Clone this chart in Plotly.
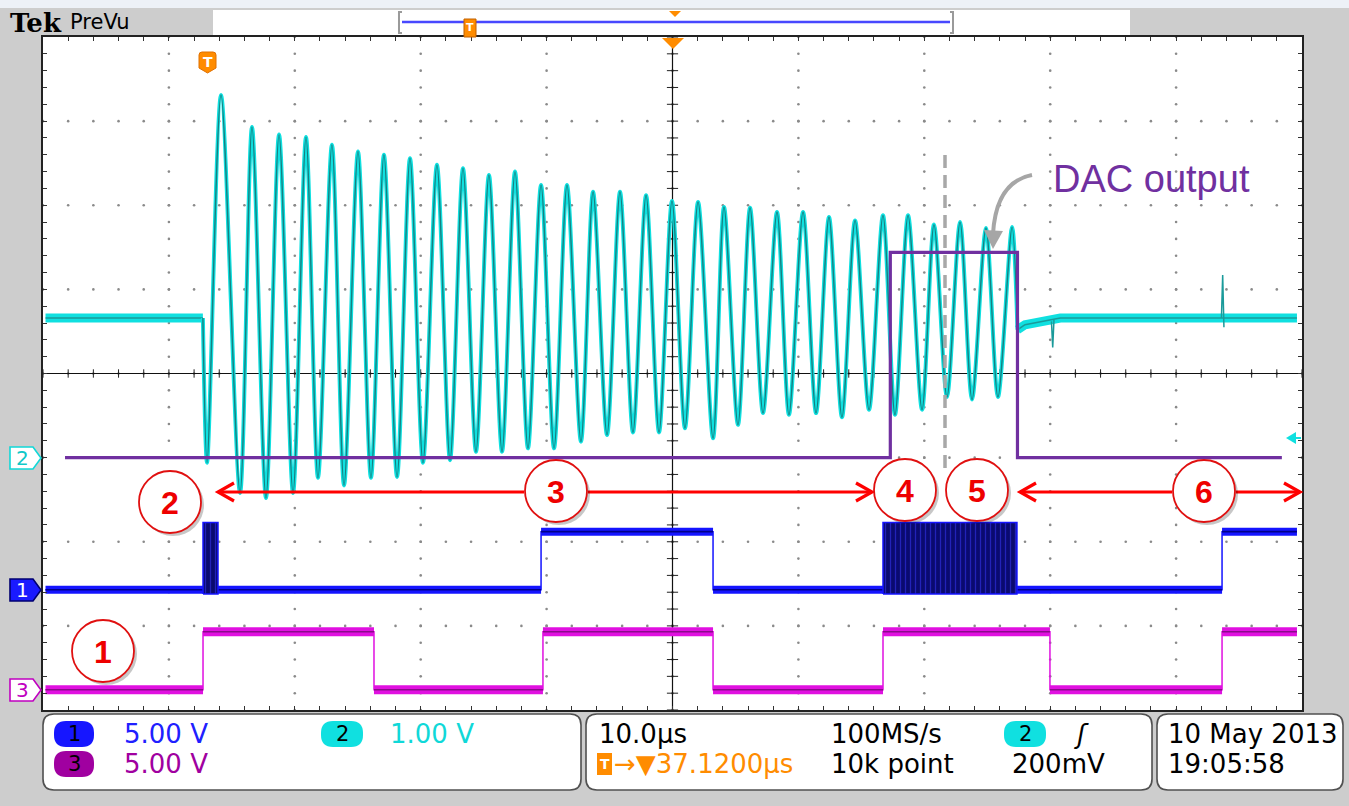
import plotly.graph_objects as go

W, H = 1349, 806
GL, GR, GT, GB = 43, 1302, 37, 710

# ---------------- data (time in µs from left edge, amplitude in divisions) -------------
cyan_pre_t = [0.2, 12.7]
cyan_pre_v = [4.66, 4.66]
trough_t = [13.03, 15.65, 17.71, 19.86, 21.84, 23.91, 26.05, 28.12, 30.18, 32.33, 34.39,
            36.46, 38.52, 40.59, 42.73, 44.80, 46.86, 48.93, 50.99, 53.22, 55.20, 57.19,
            59.25, 61.40, 63.46, 65.61, 67.67, 69.82, 71.80, 73.79, 75.85]
trough_v = [2.94, 2.58, 2.52, 2.58, 2.76, 2.67, 2.76, 2.77, 2.94, 2.97, 3.07,
            3.07, 3.11, 3.11, 3.19, 3.27, 3.30, 3.30, 3.35, 3.23, 3.39, 3.53,
            3.51, 3.53, 3.48, 3.57, 3.51, 3.57, 3.72, 3.69, 3.72]
peak_t = [14.14, 16.60, 18.75, 20.89, 22.95, 25.02, 27.08, 29.15, 31.29, 33.36, 35.42,
          37.49, 39.56, 41.62, 43.69, 45.83, 47.90, 49.96, 52.03, 54.09, 56.16, 58.30,
          60.37, 62.43, 64.50, 66.72, 68.71, 70.77, 72.84, 74.90, 76.97]
peak_v = [7.31, 6.93, 6.84, 6.81, 6.72, 6.64, 6.60, 6.56, 6.48, 6.44, 6.36,
          6.40, 6.24, 6.24, 6.16, 6.16, 6.12, 6.05, 6.04, 5.98, 5.97, 5.92,
          5.92, 5.86, 5.82, 5.88, 5.88, 5.77, 5.80, 5.73, 5.74]
cyan_post_t = [77.4, 78.0, 80.8, 99.6]
cyan_post_v = [4.52, 4.58, 4.66, 4.66]
cyan_spike_t = [80.1, 80.2, 80.3, 93.6, 93.7, 93.8]
cyan_spike_v = [4.62, 4.31, 4.64, 4.66, 5.17, 4.55]

blue_edges = [0.2, 12.71, 13.90, 39.56, 53.22, 66.72, 77.36, 93.65, 99.6]
blue_levels = [1.43, 1.43, 1.43, 2.12, 1.43, 1.43, 1.43, 2.12]
blue_burst = [0, 1, 0, 0, 0, 1, 0, 0]
blue_burst_top = 2.23
blue_burst_bottom = 1.38

mag_edges = [0.2, 12.71, 26.29, 39.71, 53.22, 66.72, 79.98, 93.65, 99.6]
mag_levels = [0.24, 0.93, 0.24, 0.93, 0.24, 0.93, 0.24, 0.93]

dac_edges = [1.75, 67.3, 77.4, 98.4]
dac_levels = [3.0, 5.44, 3.0]

# ---------------- helpers --------------------------------------------------------------
def X(px):
    return px / W

def Y(py):
    return 1 - py / H

def P(px, py):
    return f"{X(px):.5f},{Y(py):.5f}"

def rrect(x0, y0, x1, y1, r):
    return (f"M {P(x0 + r, y0)} L {P(x1 - r, y0)} Q {P(x1, y0)} {P(x1, y0 + r)} "
            f"L {P(x1, y1 - r)} Q {P(x1, y1)} {P(x1 - r, y1)} L {P(x0 + r, y1)} "
            f"Q {P(x0, y1)} {P(x0, y1 - r)} L {P(x0, y0 + r)} Q {P(x0, y0)} {P(x0 + r, y0)} Z")

def poly(pts):
    return "M " + " L ".join(P(a, b) for a, b in pts) + " Z"

fig = go.Figure()

def line_tr(x, y, col, w, **kw):
    fig.add_trace(go.Scatter(x=x, y=y, mode="lines", line=dict(color=col, width=w, **kw),
                             hoverinfo="skip", showlegend=False))

# grid dots
gx, gy = [], []
for mx in range(10, 100, 10):
    for k in range(0, 41):
        gx.append(mx); gy.append(k * 0.2)
for my in range(1, 8):
    for k in range(0, 51):
        gx.append(k * 2); gy.append(my)
fig.add_trace(go.Scatter(x=gx, y=gy, mode="markers", hoverinfo="skip",
                         marker=dict(size=2.6, color="#8a8a8a"), showlegend=False))
# centre-line ticks
fig.add_trace(go.Scatter(x=[k * 2 for k in range(51)], y=[4] * 51, mode="markers", hoverinfo="skip",
                         marker=dict(symbol="line-ns", size=6, line=dict(width=1, color="#222")),
                         showlegend=False))
fig.add_trace(go.Scatter(x=[50] * 41, y=[k * 0.2 for k in range(41)], mode="markers", hoverinfo="skip",
                         marker=dict(symbol="line-ew", size=8, line=dict(width=1, color="#222")),
                         showlegend=False))
line_tr([0, 100], [4, 4], "#111", 1.2)
line_tr([50, 50], [0, 8], "#111", 1.2)


def step_traces(edges, levels, wide_col, thin_col, band):
    sx, sy, bx, by = [], [], [], []
    for i, lv in enumerate(levels):
        sx += [edges[i], edges[i + 1]]
        sy += [lv, lv]
        bx += [edges[i], edges[i + 1], None]
        by += [lv, lv, None]
    line_tr(sx, sy, wide_col, 1.5)
    line_tr(bx, by, wide_col, band)
    line_tr(bx, by, thin_col, 1.6)


# magenta (ch3)
step_traces(mag_edges, mag_levels, "#e010e0", "#8a0a8a", 9)
# blue (ch1)
step_traces(blue_edges, blue_levels, "#1414ff", "#00008a", 8)
for i, b in enumerate(blue_burst):
    if b:
        t0, t1 = blue_edges[i], blue_edges[i + 1]
        fig.add_trace(go.Scatter(x=[t0, t1, t1, t0, t0],
                                 y=[blue_burst_bottom, blue_burst_bottom, blue_burst_top, blue_burst_top,
                                    blue_burst_bottom],
                                 mode="lines", fill="toself", fillcolor="#0a0a70",
                                 fillpattern=dict(shape="|", bgcolor="#0a0a70", fgcolor="#3a3aff",
                                                  size=5, solidity=0.25),
                                 line=dict(color="#1414ff", width=1.5), hoverinfo="skip", showlegend=False))

# cyan (ch2)
osc_t, osc_v = [cyan_pre_t[-1]], [cyan_pre_v[-1]]
for a, b, c, d in zip(trough_t, trough_v, peak_t, peak_v):
    osc_t += [a, c]
    osc_v += [b, d]
osc_t.append(cyan_post_t[0]); osc_v.append(cyan_post_v[0])
for t_, v_ in [(cyan_pre_t, cyan_pre_v), (cyan_post_t, cyan_post_v)]:
    line_tr(t_, v_, "#10e0e0", 9)
    line_tr(t_, v_, "#1a9a9a", 1.6)
line_tr(cyan_spike_t[:3], cyan_spike_v[:3], "#1a9a9a", 1.5)
line_tr(cyan_spike_t[3:], cyan_spike_v[3:], "#1a9a9a", 1.5)
line_tr(osc_t, osc_v, "#10e0e0", 4.0, shape="spline", smoothing=0.85)
line_tr(osc_t, osc_v, "#177f80", 1.4, shape="spline", smoothing=0.85)

# DAC output
line_tr(dac_edges, dac_levels + [dac_levels[-1]], "#7030a0", 3.2, shape="hv")

shapes = []
ann = []

def txt(s, x, y, col="black", size=26, anchor="left", family="DejaVu Sans"):
    ann.append(dict(text=s, x=X(x), y=Y(y), xref="paper", yref="paper", showarrow=False,
                    xanchor=anchor, yanchor="middle",
                    font=dict(color=col, size=size, family=family)))

# background pieces
shapes.append(dict(type="rect", xref="paper", yref="paper", x0=0, x1=1, y0=Y(8), y1=1,
                   fillcolor="#edf1f7", line=dict(width=0), layer="below"))
shapes.append(dict(type="rect", xref="paper", yref="paper", x0=X(213), x1=X(1130), y0=Y(35), y1=Y(10),
                   fillcolor="white", line=dict(width=0), layer="below"))
# record view brackets & line
for bx0, sgn in [(399, 1), (953, -1)]:
    shapes.append(dict(type="path", xref="paper", yref="paper",
                       path=f"M {P(bx0 + 3 * sgn, 12)} L {P(bx0, 12)} L {P(bx0, 33)} L {P(bx0 + 3 * sgn, 33)}",
                       line=dict(color="#9a9a9a", width=2)))
shapes.append(dict(type="line", xref="paper", yref="paper", x0=X(402), x1=X(950), y0=Y(22), y1=Y(22),
                   line=dict(color="#4848ff", width=2.5)))
shapes.append(dict(type="rect", xref="paper", yref="paper", x0=X(464), x1=X(476), y0=Y(37), y1=Y(19),
                   fillcolor="#ff8c00", line=dict(color="#c06000", width=1)))
txt("<b>T</b>", 470, 28, "white", 11, "center")
shapes.append(dict(type="path", xref="paper", yref="paper", path=poly([(669, 11), (681, 11), (675, 17)]),
                   fillcolor="#ff8c00", line=dict(width=0)))
shapes.append(dict(type="path", xref="paper", yref="paper", path=poly([(662, 38), (684, 38), (673, 49)]),
                   fillcolor="#ff8c00", line=dict(width=0), layer="above"))

txt("<b>Tek</b>", 8, 23, "black", 26, "left", "DejaVu Serif")
txt("PreVu", 68, 22, "black", 21)

# trigger T marker
shapes.append(dict(type="path", xref="paper", yref="paper",
                   path=(f"M {P(199, 55)} Q {P(199, 52)} {P(202, 52)} L {P(213, 52)} Q {P(216, 52)} {P(216, 55)} "
                         f"L {P(216, 68)} L {P(207.5, 73)} L {P(199, 68)} Z"),
                   fillcolor="#ff8c00", line=dict(color="#e07000", width=1)))
txt("<b>T</b>", 207.5, 62, "white", 14, "center")

# cyan trigger level arrow at right
shapes.append(dict(type="path", xref="paper", yref="paper", path=poly([(1286, 438), (1296, 432), (1296, 444)]),
                   fillcolor="#10e0e0", line=dict(width=0), layer="above"))
shapes.append(dict(type="line", xref="paper", yref="paper", x0=X(1294), x1=X(1301), y0=Y(438), y1=Y(438),
                   line=dict(color="#10e0e0", width=2)))

# channel tags on the left
for cy, fill, edge, tcol, lab in [(458, "white", "#10d8d8", "#10c8c8", "2"),
                                  (590, "#1a1aff", "#000070", "white", "1"),
                                  (690, "white", "#c000c0", "#c000c0", "3")]:
    shapes.append(dict(type="path", xref="paper", yref="paper",
                       path=poly([(10, cy - 11), (33, cy - 11), (41, cy), (33, cy + 11), (10, cy + 11)]),
                       fillcolor=fill, line=dict(color=edge, width=1.6)))
    txt(lab, 22, cy, tcol, 20, "center")

# grey dashed marker line
shapes.append(dict(type="line", xref="paper", yref="paper", x0=X(945), x1=X(945), y0=Y(155), y1=Y(472),
                   line=dict(color="#a8a8a8", width=3.5, dash="13px,7px"), layer="above"))

# DAC output label and curved arrow
shapes.append(dict(type="path", xref="paper", yref="paper",
                   path=f"M {P(1032, 175)} Q {P(996, 182)} {P(993, 234)}",
                   line=dict(color="#a6a6a6", width=4), layer="above"))
shapes.append(dict(type="path", xref="paper", yref="paper", path=poly([(984, 230), (1003, 231), (993, 249)]),
                   fillcolor="#a6a6a6", line=dict(width=0), layer="above"))
txt("DAC output", 1151, 179, "#7030a0", 38, "center", "Liberation Sans")

# red arrows
RY = 492
RED = "#ff0000"
for x0, x1 in [(218, 524), (588, 872), (1020, 1172), (1236, 1300)]:
    shapes.append(dict(type="line", xref="paper", yref="paper", x0=X(x0), x1=X(x1), y0=Y(RY), y1=Y(RY),
                       line=dict(color=RED, width=3), layer="above"))
for hx, d in [(218, 1), (872, -1), (1020, 1), (1300, -1)]:
    shapes.append(dict(type="path", xref="paper", yref="paper",
                       path=f"M {P(hx + 16 * d, RY - 9)} L {P(hx, RY)} L {P(hx + 16 * d, RY + 9)}",
                       line=dict(color=RED, width=3.2), layer="above"))

# numbered circles
for cx, cy, lab in [(170, 502, "2"), (556, 491, "3"), (905, 490, "4"), (977, 490, "5"),
                    (1204, 491, "6"), (103, 651, "1")]:
    r = 31
    shapes.append(dict(type="circle", xref="paper", yref="paper", x0=X(cx - r + 3), x1=X(cx + r + 3),
                       y0=Y(cy + r + 3), y1=Y(cy - r + 3), fillcolor="rgba(0,0,0,0.22)",
                       line=dict(width=0), layer="above"))
    shapes.append(dict(type="circle", xref="paper", yref="paper", x0=X(cx - r), x1=X(cx + r),
                       y0=Y(cy + r), y1=Y(cy - r), fillcolor="white",
                       line=dict(color="#e01010", width=1.8), layer="above"))
    txt(f"<b>{lab}</b>", cx, cy + 1, "#ee0000", 32, "center", "Liberation Sans")

# bottom status boxes
for x0, x1 in [(43, 581), (586, 1152), (1157, 1343)]:
    shapes.append(dict(type="path", xref="paper", yref="paper", path=rrect(x0, 714, x1, 790, 11),
                       fillcolor="white", line=dict(color="#505050", width=1.6)))

def badge(x0, x1, yc, fill, lab):
    shapes.append(dict(type="path", xref="paper", yref="paper", path=rrect(x0, yc - 13, x1, yc + 13, 12),
                       fillcolor=fill, line=dict(width=0)))
    txt(lab, (x0 + x1) / 2, yc, "black", 21, "center")

R1, R2 = 734, 764
badge(54, 94, R1, "#1616ff", "1")
txt("5.00 V", 122, R1, "#2020ff")
badge(321, 363, R1, "#10e0e0", "2")
txt("1.00 V", 388, R1, "#10d8d8")
badge(54, 94, R2, "#a000a0", "3")
txt("5.00 V", 122, R2, "#a000a0")

txt("10.0µs", 597, R1)
txt("100MS/s", 829, R1)
badge(1004, 1046, R1, "#10e0e0", "2")
txt("<i>ʃ</i>", 1072, R1)
shapes.append(dict(type="rect", xref="paper", yref="paper", x0=X(597), x1=X(612), y0=Y(775), y1=Y(753),
                   fillcolor="#ff8c00", line=dict(width=0)))
txt("<b>T</b>", 604.5, R2, "white", 14, "center")
txt("→▼37.1200µs", 612, R2, "#ff8c00")
txt("10k point", 829, R2)
txt("200mV", 1010, R2)
txt("10 May 2013", 1166, R1)
txt("19:05:58", 1166, R2)

fig.update_layout(
    width=W, height=H,
    margin=dict(l=0, r=0, t=0, b=0),
    paper_bgcolor="#cdcdcd", plot_bgcolor="white",
    shapes=shapes, annotations=ann, showlegend=False,
    xaxis=dict(domain=[GL / W, GR / W], range=[0, 100], showgrid=False, zeroline=False,
               showticklabels=False, ticks="inside", dtick=2, tick0=0, ticklen=4, tickcolor="#333",
               showline=True, linewidth=2.2, linecolor="#222", mirror="ticks", fixedrange=True),
    yaxis=dict(domain=[1 - GB / H, 1 - GT / H], range=[0, 8], showgrid=False, zeroline=False,
               showticklabels=False, ticks="inside", dtick=0.2, tick0=0, ticklen=4, tickcolor="#333",
               showline=True, linewidth=2.2, linecolor="#222", mirror="ticks", fixedrange=True),
)
fig.write_html("out.html", config={"displayModeBar": False},
               post_script="document.body.style.margin='0';document.body.style.overflow='hidden';")
